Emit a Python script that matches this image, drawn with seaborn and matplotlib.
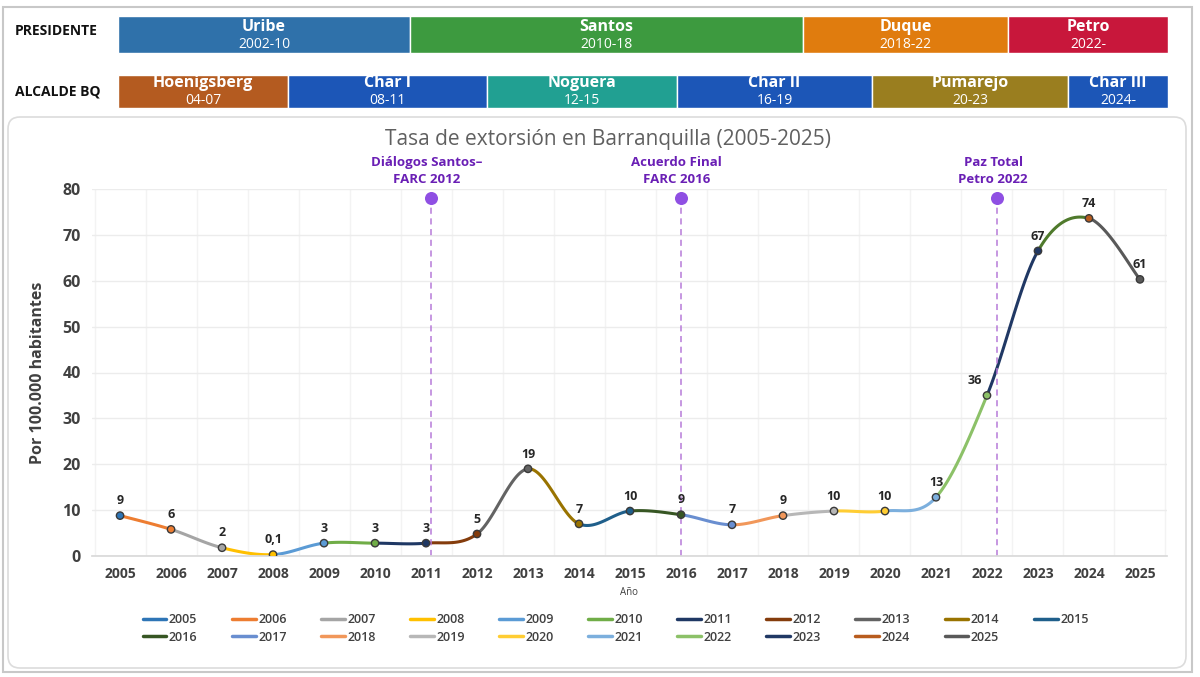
import numpy as np
import pandas as pd
import matplotlib
matplotlib.use('Agg')
import matplotlib.pyplot as plt
import seaborn as sns
from matplotlib.patches import FancyBboxPatch, Rectangle
from matplotlib.lines import Line2D

sns.set_theme(style='white')
plt.rcParams['font.family'] = ['Open Sans', 'DejaVu Sans']

# Datos
anios = list(range(2005, 2026))
tasa = [8.8, 5.8, 1.8, 0.3, 2.8, 2.8, 2.8, 4.8, 19.0, 7.0, 9.8,
        9.0, 6.8, 8.8, 9.8, 9.8, 12.8, 35.0, 66.5, 73.6, 60.3]
etiquetas = ['9', '6', '2', '0,1', '3', '3', '3', '5', '19', '7', '10',
             '9', '7', '9', '10', '10', '13', '36', '67', '74', '61']

presidentes = ['Uribe', 'Santos', 'Duque', 'Petro']
periodos_pres = ['2002-10', '2010-18', '2018-22', '2022-']
alcaldes = ['Hoenigsberg', 'Char I', 'Noguera', 'Char II', 'Pumarejo', 'Char III']
periodos_alc = ['04-07', '08-11', '12-15', '16-19', '20-23', '2024-']

hitos = ['Diálogos Santos–\nFARC 2012', 'Acuerdo Final\nFARC 2016', 'Paz Total\nPetro 2022']
hitos_x = [2011.1, 2016.0, 2022.2]
hito_y = 78

# Estilo / layout
colores_anio = ['#2e75b6', '#ed7d31', '#a5a5a5', '#ffc000', '#5b9bd5', '#70ad47',
                '#1f3864', '#843c0c', '#636363', '#997300', '#1f5f8b', '#375623',
                '#698ed0', '#f1975a', '#b7b7b7', '#ffcd33', '#7cafdd', '#8cc168',
                '#203864', '#b85c1e', '#595959']
colores_tramo = list(colores_anio)
colores_tramo[19] = '#4f7a2c'   # tramo 2023-2024 se ve verde en el original
paleta_tramo = {str(a): c for a, c in zip(anios, colores_tramo)}
paleta = {str(a): c for a, c in zip(anios, colores_anio)}
col_pres = ['#2f71aa', '#3d9a3f', '#e07c0e', '#c8173b']
col_alc = ['#b45b20', '#1c56b7', '#21a092', '#1c56b7', '#9a7e1f', '#1c56b7']
bordes_pres = [118, 410, 803, 1008, 1168]
bordes_alc = [118, 288, 487, 677, 872, 1068, 1168]

fig = plt.figure(figsize=(12, 6.77), dpi=100)
fig.patch.set_facecolor('white')

# capa de fondo en pixeles
ov = fig.add_axes([0, 0, 1, 1], zorder=0)
ov.set_xlim(0, 1200)
ov.set_ylim(677, 0)
ov.axis('off')
ov.add_patch(Rectangle((3, 7), 1189, 665, facecolor='white', edgecolor='#c8c8c8', lw=1.5))
ov.add_patch(FancyBboxPatch((8, 117), 1178, 551, boxstyle='round,pad=0,rounding_size=12',
                            facecolor='white', edgecolor='#dcdcdc', lw=1.2))

# barras de encabezado
izq = bordes_pres[:-1]
anch = np.diff(bordes_pres)
ov.barh([34.5] * len(presidentes), anch, left=izq, height=37, color=col_pres,
        edgecolor='white', linewidth=1)
for l, w, n, p in zip(izq, anch, presidentes, periodos_pres):
    ov.text(l + w / 2, 27, n, ha='center', va='center', color='white', fontsize=11.5, fontweight='bold')
    ov.text(l + w / 2, 44.5, p, ha='center', va='center', color='white', fontsize=10)
izq = bordes_alc[:-1]
anch = np.diff(bordes_alc)
ov.barh([91] * len(alcaldes), anch, left=izq, height=33, color=col_alc,
        edgecolor='white', linewidth=1)
for l, w, n, p in zip(izq, anch, alcaldes, periodos_alc):
    ov.text(l + w / 2, 83, n, ha='center', va='center', color='white', fontsize=11.5, fontweight='bold')
    ov.text(l + w / 2, 100, p, ha='center', va='center', color='white', fontsize=10)
ov.text(15, 31, 'PRESIDENTE', ha='left', va='center', fontsize=10, fontweight='bold', color='#111111')
ov.text(15, 92, 'ALCALDE BQ', ha='left', va='center', fontsize=10, fontweight='bold', color='#111111')
ov.text(608, 140, 'Tasa de extorsión en Barranquilla (2005-2025)', ha='center', va='center',
        fontsize=15, color='#606060')

# grafico principal
ax = fig.add_axes([92 / 1200, (677 - 556) / 677, (1167 - 92) / 1200, (556 - 189) / 677], zorder=1)
ax.set_facecolor('white')

# curva suavizada (tipo Excel) por segmentos coloreados
x = np.array(anios, dtype=float)
y = np.array(tasa)
filas = [{'x': x[0], 'y': y[0], 'serie': str(anios[0])}]
t = np.linspace(0, 1, 40)
n = len(x)
for i in range(1, n):
    p0 = np.array([x[i - 1], y[i - 1]])
    p3 = np.array([x[i], y[i]])
    pa = np.array([x[max(i - 2, 0)], y[max(i - 2, 0)]])
    pb = np.array([x[min(i + 1, n - 1)], y[min(i + 1, n - 1)]])
    p1 = p0 + (p3 - pa) / 6
    p2 = p3 - (pb - p0) / 6
    pts = ((1 - t) ** 3)[:, None] * p0 + (3 * (1 - t) ** 2 * t)[:, None] * p1 \
        + (3 * (1 - t) * t ** 2)[:, None] * p2 + (t ** 3)[:, None] * p3
    for px, py in pts:
        filas.append({'x': px, 'y': py, 'serie': str(anios[i])})
df = pd.DataFrame(filas)

sns.lineplot(data=df, x='x', y='y', hue='serie', hue_order=[str(a) for a in anios],
             palette=paleta_tramo, sort=False, estimator=None, linewidth=2.2, ax=ax, legend=False)

sns.scatterplot(x=anios, y=tasa, hue=[str(a) for a in anios], palette=paleta,
                edgecolor='#3a3a3a', linewidth=1, s=28, legend=False, ax=ax, zorder=4)

for xi, yi, lab in zip(anios, tasa, etiquetas):
    dx = -9 if xi == 2022 else 0
    ax.annotate(lab, (xi, yi), xytext=(dx, 6), textcoords='offset points', ha='center', va='bottom',
                fontsize=9, fontweight='bold', color='#262626')

# hitos
ax.vlines(hitos_x, 0, hito_y, colors='#b77ad9', linestyles=(0, (4, 3)), lw=1.1, zorder=2)
ax.scatter(hitos_x, [hito_y] * len(hitos_x), s=70, color='#8f4fe3', zorder=5, clip_on=False)
for hx, ht in zip(hitos_x, hitos):
    ax.annotate(ht, (hx, hito_y), xytext=(-3, 9), textcoords='offset points', ha='center', va='bottom',
                fontsize=9.5, fontweight='bold', color='#6a1fb5', linespacing=1.35,
                annotation_clip=False)

ax.set_xlim(2004.45, 2025.53)
ax.set_ylim(0, 80)
ax.set_xticks(anios)
ax.set_xticklabels([str(a) for a in anios], fontsize=10, fontweight='bold', color='#404040')
ax.set_yticks(range(0, 81, 10))
ax.set_yticklabels([str(v) for v in range(0, 81, 10)], fontsize=11.5, fontweight='bold', color='#404040')
ax.set_xticks(np.arange(2004.5, 2025.6, 0.5), minor=True)
ax.grid(axis='y', which='major', color='#ececec', lw=1)
ax.grid(axis='x', which='minor', color='#f3f3f3', lw=1)
ax.tick_params(axis='both', which='both', length=0, pad=8)
for s in ['top', 'right', 'left']:
    ax.spines[s].set_visible(False)
ax.spines['bottom'].set_color('#d9d9d9')
ax.set_xlabel('Año', fontsize=7, color='#404040', labelpad=4)
ax.set_ylabel('Por 100.000 habitantes', fontsize=11.5, fontweight='bold', color='#404040', labelpad=12)

# leyenda por filas (11 columnas)
handles = [Line2D([0], [0], color=c, lw=2.5) for c in colores_anio]
labels = [str(a) for a in anios]
orden = []
for c in range(11):
    orden.append(c)
    if c + 11 < len(anios):
        orden.append(c + 11)
fig.legend([handles[i] for i in orden], [labels[i] for i in orden], ncol=11, loc='upper center',
           bbox_to_anchor=(0.513, 1 - 602 / 677), frameon=False,
           prop={'size': 9, 'weight': 'semibold'}, labelcolor='#404040',
           handlelength=1.9, handletextpad=0.2, columnspacing=2.75, labelspacing=0.35)

fig.savefig('out.png', dpi=100)
